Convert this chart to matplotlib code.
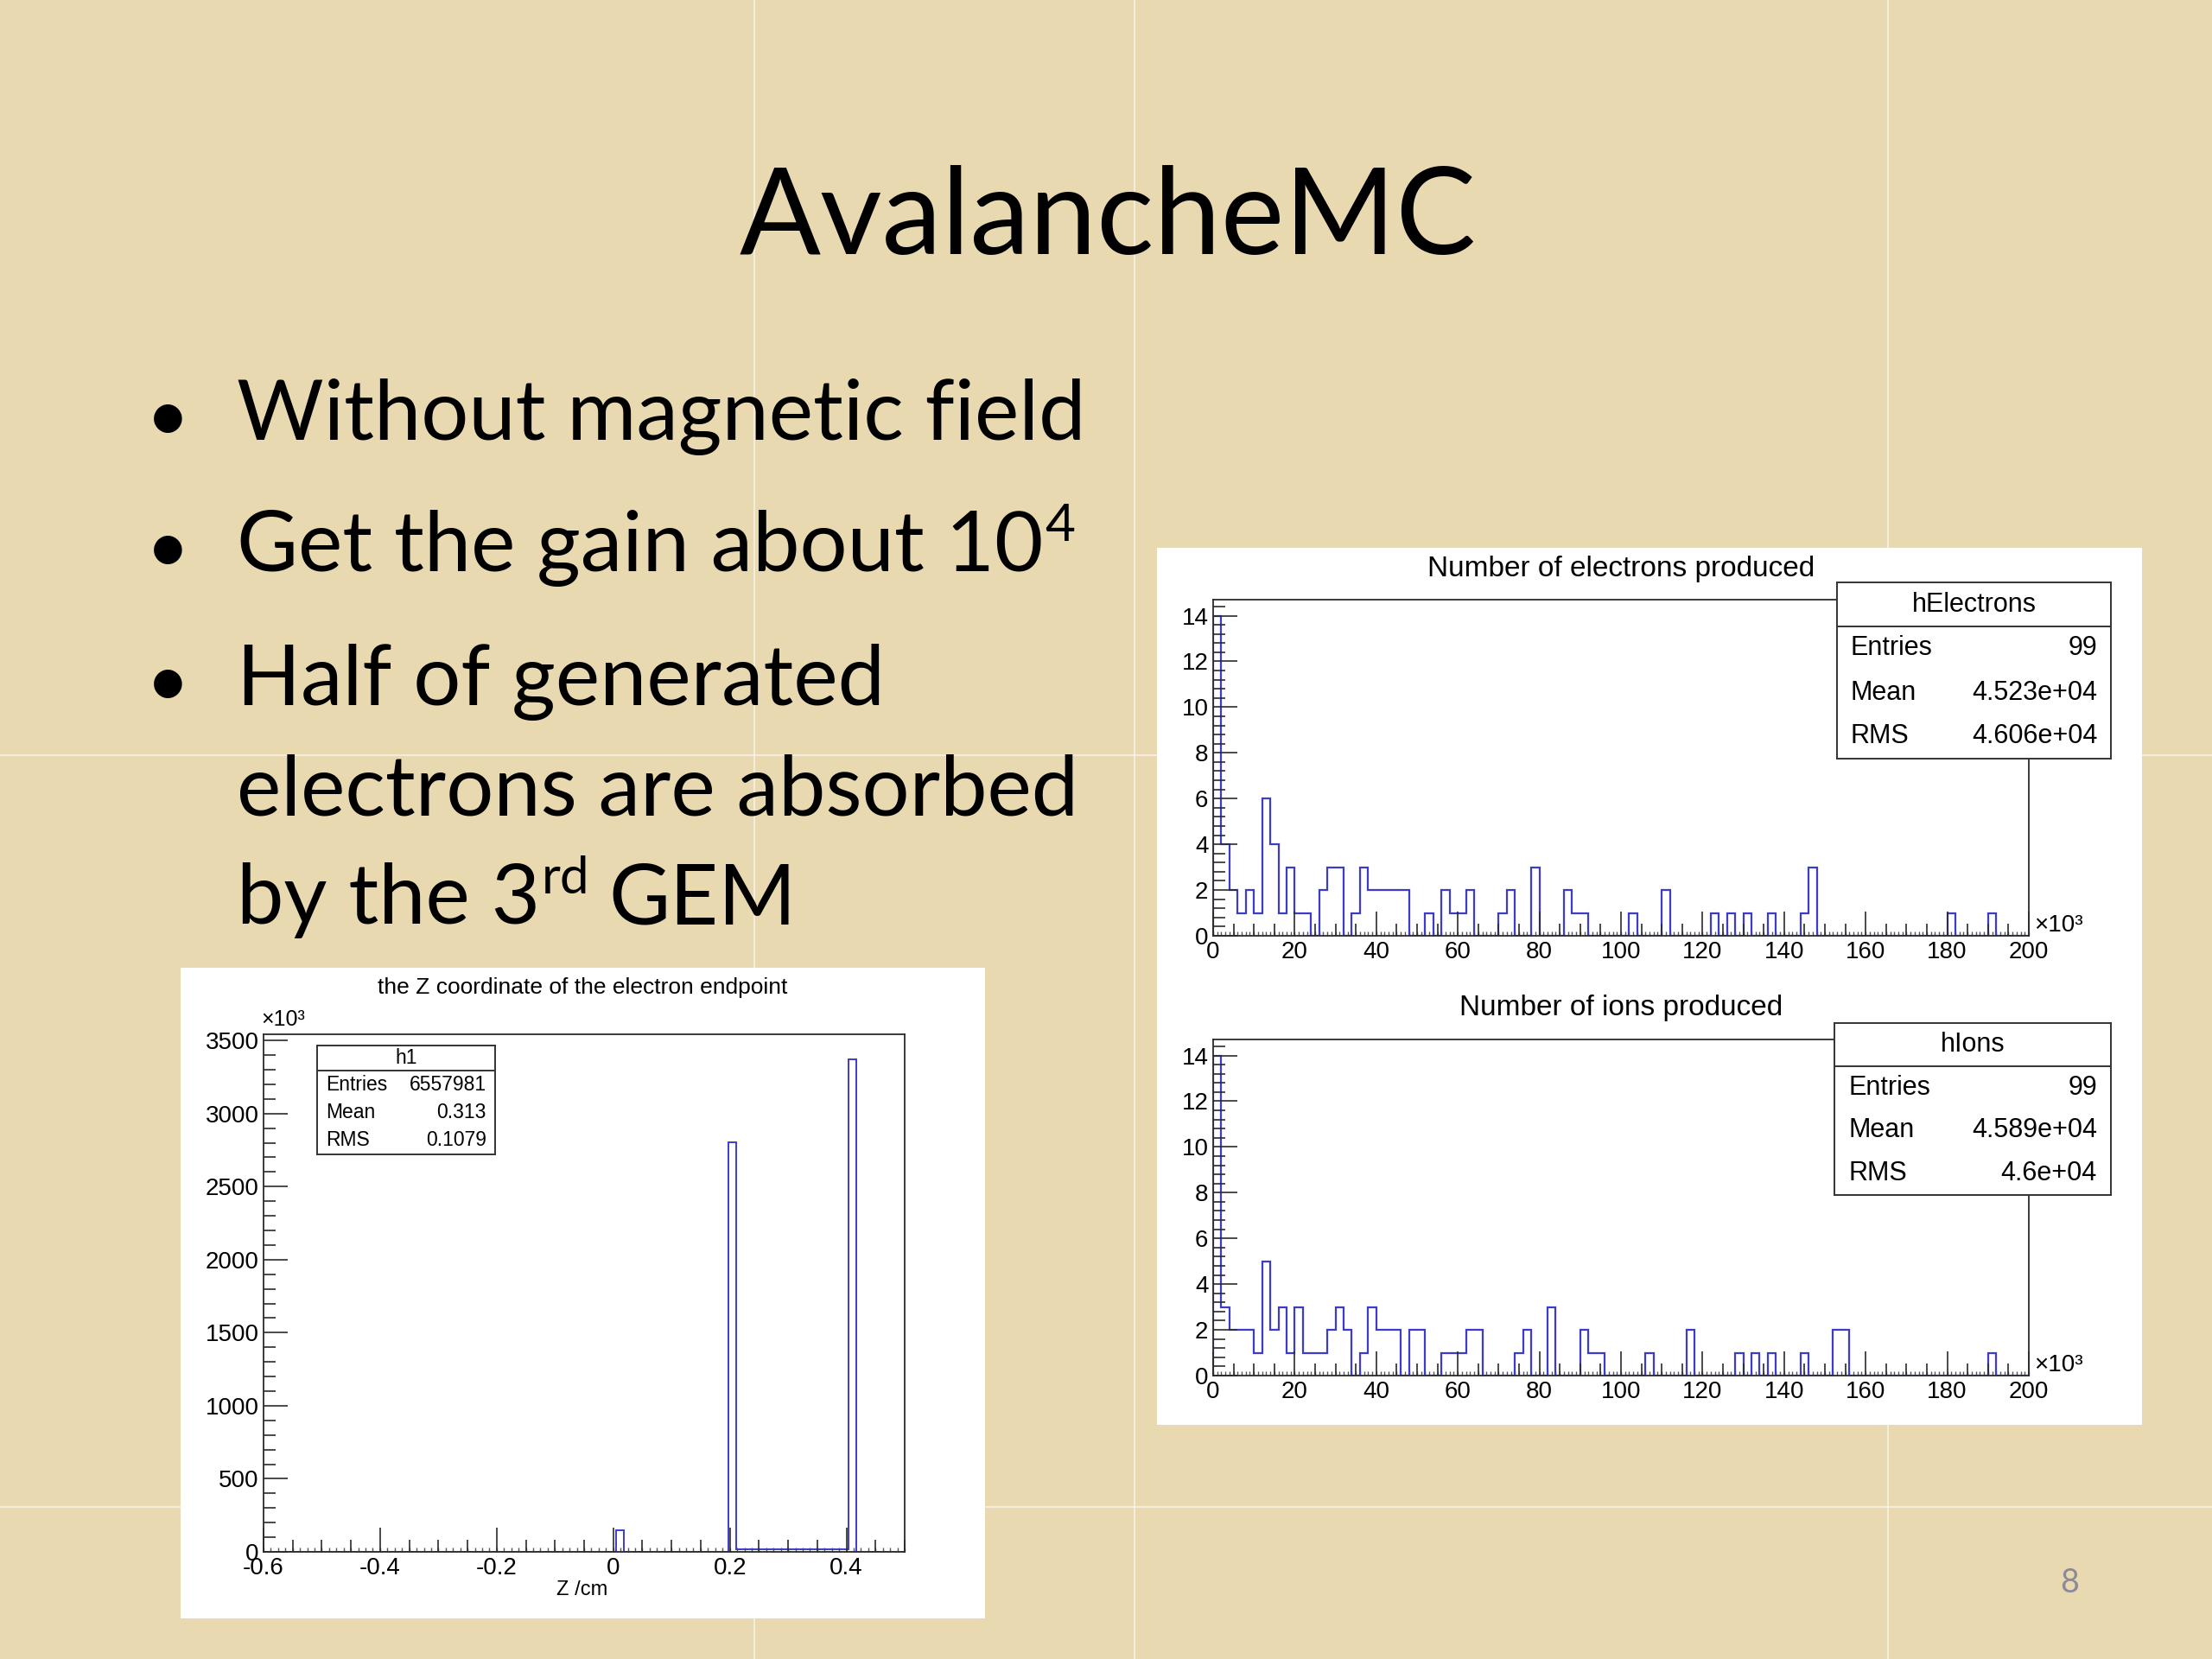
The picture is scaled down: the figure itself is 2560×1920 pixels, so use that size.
import matplotlib

matplotlib.use("Agg")
import matplotlib.pyplot as plt
import numpy as np
from matplotlib.lines import Line2D
from matplotlib.patches import Rectangle
from matplotlib.ticker import FuncFormatter, MultipleLocator

W, H = 2560, 1920
DPI = 100
SLIDE_FONT = "Lato"
ROOT_FONT = "Liberation Sans"
LINE_BLUE = "#3c3cc8"
BG = "#E8D9B1"

plt.rcParams["axes.unicode_minus"] = False

# slide text
SLIDE_TITLE = "AvalancheMC"
BULLET_1 = "Without magnetic field"
BULLET_2 = ("Get the gain about 10", "4")
BULLET_3 = ["Half of generated", "electrons are absorbed"]
BULLET_3_END = ("by the 3", "rd", "GEM")
PAGE_NO = "8"

# number of electrons / ions per event, 100 bins from 0 to 200 (x10^3)
count_edges = np.linspace(0, 200, 101)
elec_counts = [
    14, 4, 2, 1, 2, 1, 6, 4, 1, 3,
    1, 1, 0, 2, 3, 3, 0, 1, 3, 2,
    2, 2, 2, 2, 0, 0, 1, 0, 2, 1,
    1, 2, 0, 0, 0, 1, 2, 0, 0, 3,
    0, 0, 0, 2, 1, 1, 0, 0, 0, 0,
    0, 1, 0, 0, 0, 2, 0, 0, 0, 0,
    0, 1, 0, 1, 0, 1, 0, 0, 1, 0,
    0, 0, 1, 3, 0, 0, 0, 0, 0, 0,
    0, 0, 0, 0, 0, 0, 0, 0, 0, 0,
    1, 0, 0, 0, 0, 1, 0, 0, 0, 0,
]
ion_counts = [
    14, 3, 2, 2, 2, 1, 5, 2, 3, 1,
    3, 1, 1, 1, 2, 3, 2, 0, 1, 3,
    2, 2, 2, 0, 2, 2, 0, 0, 1, 1,
    1, 2, 2, 0, 0, 0, 0, 1, 2, 0,
    0, 3, 0, 0, 0, 2, 1, 1, 0, 0,
    0, 0, 0, 1, 0, 0, 0, 0, 2, 0,
    0, 0, 0, 0, 1, 0, 1, 0, 1, 0,
    0, 0, 1, 0, 0, 0, 2, 2, 0, 0,
    0, 0, 0, 0, 0, 0, 0, 0, 0, 0,
    0, 0, 0, 0, 0, 1, 0, 0, 0, 0,
]
elec_stats = [("Entries", "99"), ("Mean", "4.523e+04"), ("RMS", "4.606e+04")]
ion_stats = [("Entries", "99"), ("Mean", "4.589e+04"), ("RMS", "4.6e+04")]

# electron endpoint z, 80 bins from -0.6 to 0.5 cm (x10^3)
z_edges = np.linspace(-0.6, 0.5, 81)
z_counts = [0] * 44 + [149] + [0] * 13 + [2803] + [
    18, 17, 17, 16, 16, 16, 16, 16, 16, 16, 16, 17, 17, 18
] + [3374] + [0] * 6
z_stats = [("Entries", "6557981"), ("Mean", "0.313"), ("RMS", "0.1079")]


def fy(y):
    return 1 - y / H


def axes_px(fig, x0, y0, x1, y1, zorder=1):
    return fig.add_axes([x0 / W, 1 - y1 / H, (x1 - x0) / W, (y1 - y0) / H], zorder=zorder)


def white_canvas(fig, x0, y0, x1, y1):
    fig.add_artist(Rectangle((x0 / W, 1 - y1 / H), (x1 - x0) / W, (y1 - y0) / H,
                             transform=fig.transFigure, facecolor="white",
                             edgecolor="none", zorder=-1))


def fmt_g(v, _):
    return f"{v:g}"


def style_frame(ax, xmaj, xmin, xtiny, ymaj, ymin, labelsize, majlen, minlen):
    for sp in ax.spines.values():
        sp.set_color("#2b2b2b")
        sp.set_linewidth(1.3)
    ax.xaxis.set_major_locator(MultipleLocator(xmaj))
    ax.xaxis.set_minor_locator(MultipleLocator(xmin))
    ax.yaxis.set_major_locator(MultipleLocator(ymaj))
    ax.yaxis.set_minor_locator(MultipleLocator(ymin))
    ax.xaxis.set_major_formatter(FuncFormatter(fmt_g))
    ax.yaxis.set_major_formatter(FuncFormatter(fmt_g))
    ax.tick_params(which="both", direction="in", top=False, right=False,
                   colors="#2b2b2b", width=1.2)
    ax.tick_params(which="major", length=majlen, labelsize=labelsize, pad=4,
                   labelcolor="black")
    ax.tick_params(which="minor", length=minlen)
    for lab in ax.get_xticklabels() + ax.get_yticklabels():
        lab.set_family(ROOT_FONT)
    # third level of small ticks along the x axis, as ROOT draws them
    sec = ax.secondary_xaxis("bottom")
    sec.xaxis.set_major_locator(MultipleLocator(xtiny))
    sec.tick_params(direction="in", length=3.5, width=1.0, colors="#555555",
                    labelbottom=False)
    sec.spines["bottom"].set_visible(False)


def stats_box(fig, x0, y0, x1, y1, name, rows, size, header_frac):
    ax = axes_px(fig, x0, y0, x1, y1, zorder=5)
    ax.set_xlim(0, 1)
    ax.set_ylim(0, 1)
    ax.set_xticks([])
    ax.set_yticks([])
    ax.set_facecolor("white")
    for sp in ax.spines.values():
        sp.set_color("#333333")
        sp.set_linewidth(1.4)
    ax.axhline(1 - header_frac, color="#333333", lw=1.4)
    ax.text(0.5, 1 - header_frac / 2, name, ha="center", va="center",
            fontsize=size, family=ROOT_FONT)
    body = 1 - header_frac
    for i, (k, v) in enumerate(rows):
        yy = body * (1 - (i + 0.5) / len(rows))
        ax.text(0.05, yy, k, ha="left", va="center", fontsize=size, family=ROOT_FONT)
        ax.text(0.95, yy, v, ha="right", va="center", fontsize=size, family=ROOT_FONT)
    return ax


def count_hist(fig, frame, counts, title, title_y, name, rows, box):
    x0, y0, x1, y1 = frame
    ax = axes_px(fig, x0, y0, x1, y1, zorder=2)
    ax.set_facecolor("white")
    ax.stairs(counts, count_edges, color=LINE_BLUE, lw=1.6)
    ax.set_xlim(0, 200)
    ax.set_ylim(0, max(counts) * 1.05)
    style_frame(ax, 20, 5, 1, 2, 0.4, 20, 20, 10)
    fig.text((x0 + x1) / 2 / W, fy(title_y), title, ha="center", va="center",
             fontsize=24, family=ROOT_FONT)
    fig.text((x1 + 6) / W, fy(y1 - 12), "×10³", ha="left", va="center",
             fontsize=20, family=ROOT_FONT)
    stats_box(fig, *box, name, rows, 22, 0.25)
    return ax


fig = plt.figure(figsize=(W / DPI, H / DPI), dpi=DPI, facecolor=BG)

# faint tile seams of the slide background
for xs in (873, 1313, 2185):
    fig.add_artist(Line2D([xs / W, xs / W], [0, 1], color="white", alpha=0.55,
                          lw=1.5, transform=fig.transFigure, zorder=-2))
for ys in (874, 1744):
    fig.add_artist(Line2D([0, 1], [fy(ys), fy(ys)], color="white", alpha=0.55,
                          lw=1.5, transform=fig.transFigure, zorder=-2))

# slide title and bullets
fig.text(1282 / W, fy(294), SLIDE_TITLE, ha="center", va="baseline",
         fontsize=100, family=SLIDE_FONT, color="black")

renderer = fig.canvas.get_renderer()
TEXT_X = 274
BULLET_X = 194
BODY_SIZE = 70


def body_line(x, y, s, size=BODY_SIZE):
    return fig.text(x / W, fy(y), s, ha="left", va="baseline", fontsize=size,
                    family=SLIDE_FONT, color="black")


def bullet(y):
    fig.text(BULLET_X / W, fy(y - 30), "•", ha="center", va="center_baseline",
             fontsize=BODY_SIZE * 0.9, family=SLIDE_FONT, color="black")


def sup_after(t, y, s):
    bb = t.get_window_extent(renderer)
    rise = 0.36 * BODY_SIZE * DPI / 72
    return fig.text((bb.x1 + 2) / W, (H - y + rise) / H, s, ha="left", va="baseline",
                    fontsize=BODY_SIZE * 0.62, family=SLIDE_FONT, color="black")


bullet(509)
body_line(TEXT_X, 509, BULLET_1)
bullet(661)
t2 = body_line(TEXT_X, 661, BULLET_2[0])
sup_after(t2, 661, BULLET_2[1])
bullet(816)
body_line(TEXT_X, 816, BULLET_3[0])
body_line(TEXT_X, 944, BULLET_3[1])
t5 = body_line(TEXT_X, 1069, BULLET_3_END[0])
s5 = sup_after(t5, 1069, BULLET_3_END[1])
bb5 = s5.get_window_extent(renderer)
body_line(bb5.x1 + 0.22 * BODY_SIZE * DPI / 72, 1069, BULLET_3_END[2])

fig.text(2395 / W, fy(1832), PAGE_NO, ha="center", va="center", fontsize=27,
         family=SLIDE_FONT, color="#8a8a9a")

# right canvas: electrons and ions
white_canvas(fig, 1339, 634, 2479, 1649)
count_hist(fig, (1404, 694, 2348, 1083), elec_counts, "Number of electrons produced",
           658, "hElectrons", elec_stats, (2126, 674, 2443, 878))
count_hist(fig, (1404, 1203, 2348, 1592), ion_counts, "Number of ions produced",
           1166, "hIons", ion_stats, (2123, 1184, 2443, 1383))

# left canvas: z of endpoint
white_canvas(fig, 209, 1120, 1140, 1873)
axz = axes_px(fig, 305, 1197, 1047, 1796, zorder=2)
axz.set_facecolor("white")
axz.stairs(z_counts, z_edges, color=LINE_BLUE, lw=1.4)
axz.set_xlim(-0.6, 0.5)
axz.set_ylim(0, max(z_counts) * 1.05)
style_frame(axz, 0.2, 0.05, 0.0125, 500, 100, 20, 20, 10)
fig.text(674 / W, fy(1143), "the Z coordinate of the electron endpoint", ha="center",
         va="center", fontsize=19, family=ROOT_FONT)
fig.text(302 / W, fy(1180), "×10³", ha="left", va="center", fontsize=18,
         family=ROOT_FONT)
fig.text(674 / W, fy(1840), "Z /cm", ha="center", va="center", fontsize=17,
         family=ROOT_FONT)
stats_box(fig, 367, 1210, 573, 1336, "h1", z_stats, 16.5, 0.23)

fig.savefig("out.png", dpi=DPI, facecolor=fig.get_facecolor())
plt.close(fig)
